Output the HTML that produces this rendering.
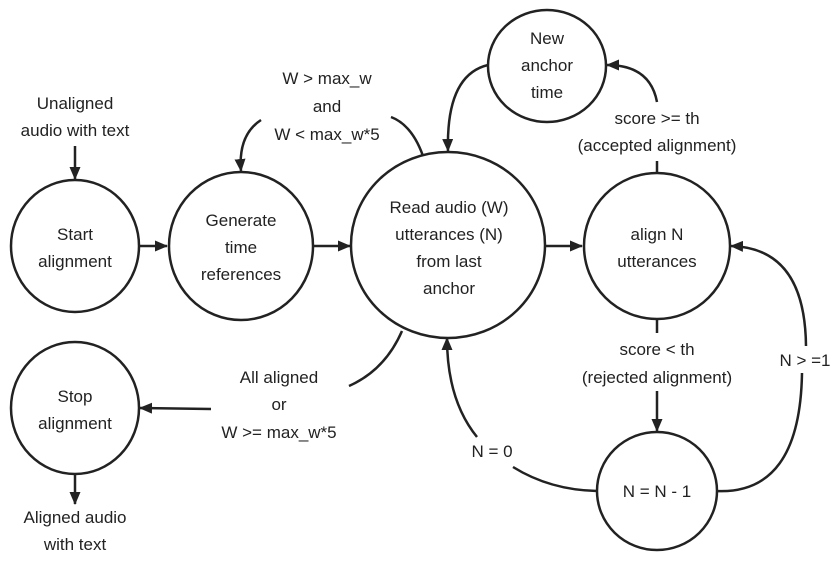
<!DOCTYPE html>
<html><head><meta charset="utf-8"><style>
html,body{margin:0;padding:0;background:#fff}
svg{display:block}
text{font-family:"Liberation Sans",sans-serif;font-size:17px;fill:#222;text-anchor:middle}
</style></head><body>
<svg width="830" height="565" viewBox="0 0 830 565" xmlns="http://www.w3.org/2000/svg">
<defs><marker id="a" viewBox="0 0 13 11" refX="12" refY="5.5" markerWidth="13" markerHeight="11" orient="auto" markerUnits="userSpaceOnUse"><path d="M0,0 L13,5.5 L0,11 z" fill="#222"/></marker></defs>
<g fill="none" stroke="#222" stroke-width="2.5">
<ellipse cx="75" cy="246" rx="64" ry="66"/>
<ellipse cx="241" cy="246" rx="72" ry="74"/>
<ellipse cx="448" cy="245" rx="97" ry="93"/>
<ellipse cx="657" cy="246" rx="73" ry="73"/>
<ellipse cx="547" cy="66" rx="59" ry="56"/>
<ellipse cx="75" cy="408" rx="64" ry="66"/>
<ellipse cx="657" cy="491" rx="60" ry="59"/>
</g>
<g fill="none" stroke="#222" stroke-width="2.5" marker-end="url(#a)">
<path d="M75 146 L75 179"/>
<path d="M139 246 L167 246"/>
<path d="M313 246 L350 246"/>
<path d="M546 246 L582 246"/>
<path d="M261 120 Q238 135 241 171"/>
<path d="M488 65 Q446 75 448 151"/>
<path d="M657 102 Q650 65 607 65"/>
<path d="M657 391 L657 431"/>
<path d="M806 346 Q805 248 731 246"/>
<path d="M477 437 Q447 400 447 338"/>
<path d="M211 409 L140 408"/>
<path d="M75 474 L75 504"/>
</g>
<g fill="none" stroke="#222" stroke-width="2.5">
<path d="M423 156 Q412 125 391 117"/>
<path d="M657 173 L657 161"/>
<path d="M657 320 L657 333"/>
<path d="M716 491 Q800 495 802 373"/>
<path d="M597 491 Q550 490 513 467"/>
<path d="M402 331 Q385 370 349 386"/>
</g>
<text x="75" y="109">Unaligned</text><text x="75" y="136">audio with text</text>
<text x="75" y="240">Start</text><text x="75" y="267">alignment</text>
<text x="241" y="226">Generate</text><text x="241" y="253">time</text><text x="241" y="280">references</text>
<text x="449" y="213">Read audio (W)</text><text x="449" y="240">utterances (N)</text><text x="449" y="267">from last</text><text x="449" y="294">anchor</text>
<text x="657" y="240">align N</text><text x="657" y="267">utterances</text>
<text x="547" y="44">New</text><text x="547" y="71">anchor</text><text x="547" y="98">time</text>
<text x="327" y="84">W &gt; max_w</text><text x="327" y="112">and</text><text x="327" y="140">W &lt; max_w*5</text>
<text x="657" y="124">score &gt;= th</text><text x="657" y="151">(accepted alignment)</text>
<text x="657" y="355">score &lt; th</text><text x="657" y="383">(rejected alignment)</text>
<text x="805" y="366">N &gt; =1</text>
<text x="492" y="457">N = 0</text>
<text x="657" y="497">N = N - 1</text>
<text x="279" y="383">All aligned</text><text x="279" y="410">or</text><text x="279" y="438">W &gt;= max_w*5</text>
<text x="75" y="402">Stop</text><text x="75" y="429">alignment</text>
<text x="75" y="523">Aligned audio</text><text x="75" y="550">with text</text>
</svg>
</body></html>
